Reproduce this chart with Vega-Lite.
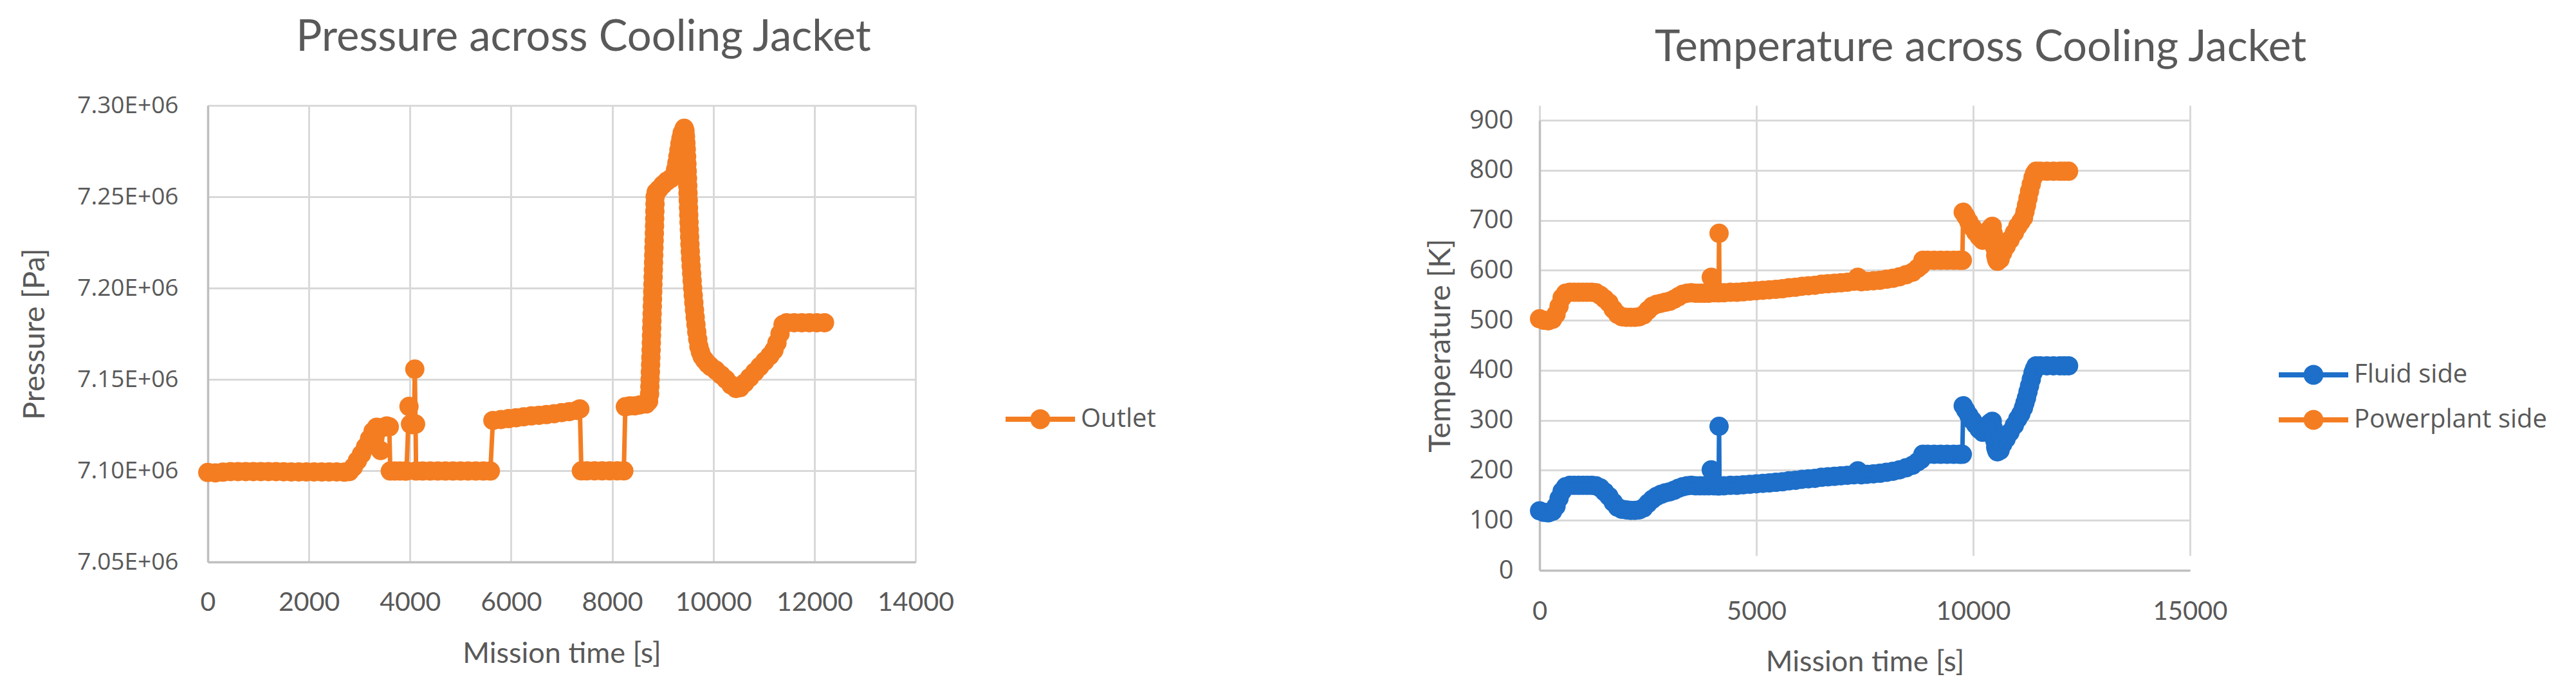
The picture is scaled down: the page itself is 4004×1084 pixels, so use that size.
{
  "$schema": "https://vega.github.io/schema/vega-lite/v6.json",
  "autosize": {"type": "none"},
  "padding": {"left": 323, "top": 164, "right": 3681, "bottom": 920},
  "background": "white",
  "spacing": 970,
  "bounds": "flush",
  "resolve": {"scale": {"color": "independent", "x": "independent", "y": "independent"}, "legend": {"color": "independent"}},
  "config": {
    "view": {"stroke": null},
    "axis": {
      "gridColor": "#D9D9D9", "gridWidth": 3, "domainColor": "#BFBFBF", "domainWidth": 3.5,
      "ticks": false, "labelColor": "#595959", "titleColor": "#595959", "titleFontWeight": "normal",
      "labelOverlap": false, "labelFlush": false
    },
    "legend": {
      "orient": "none", "padding": 0, "rowPadding": 5, "labelOffset": 18, "labelLimit": 1000,
      "labelFont": "Open Sans", "labelFontSize": 40, "labelColor": "#595959",
      "symbolType": "M-1.2,-0.089H1.2V0.089H-1.2ZM-0.344,0A0.344,0.344,0,1,1,0.344,0A0.344,0.344,0,1,1,-0.344,0Z",
      "symbolSize": 8100, "symbolStrokeWidth": 0, "symbolOpacity": 1
    }
  },
  "datasets": {
    "pressure": [
      {"time":0,"pressure":7099000,"series":"Outlet"},{"time":150,"pressure":7098800,"series":"Outlet"},{"time":300,"pressure":7099200,"series":"Outlet"},{"time":450,"pressure":7099500,"series":"Outlet"},{"time":600,"pressure":7099500,"series":"Outlet"},{"time":750,"pressure":7099500,"series":"Outlet"},{"time":900,"pressure":7099500,"series":"Outlet"},{"time":1050,"pressure":7099500,"series":"Outlet"},{"time":1200,"pressure":7099500,"series":"Outlet"},{"time":1350,"pressure":7099500,"series":"Outlet"},{"time":1500,"pressure":7099400,"series":"Outlet"},{"time":1650,"pressure":7099300,"series":"Outlet"},{"time":1800,"pressure":7099300,"series":"Outlet"},{"time":1950,"pressure":7099300,"series":"Outlet"},{"time":2100,"pressure":7099300,"series":"Outlet"},{"time":2250,"pressure":7099300,"series":"Outlet"},{"time":2400,"pressure":7099300,"series":"Outlet"},{"time":2550,"pressure":7099300,"series":"Outlet"},{"time":2700,"pressure":7099200,"series":"Outlet"},{"time":2800,"pressure":7099500,"series":"Outlet"},{"time":2880,"pressure":7102000,"series":"Outlet"},{"time":2960,"pressure":7105500,"series":"Outlet"},{"time":3040,"pressure":7109000,"series":"Outlet"},{"time":3120,"pressure":7113000,"series":"Outlet"},{"time":3200,"pressure":7117500,"series":"Outlet"},{"time":3270,"pressure":7121500,"series":"Outlet"},{"time":3340,"pressure":7123800,"series":"Outlet"},{"time":3420,"pressure":7111000,"series":"Outlet"},{"time":3480,"pressure":7123800,"series":"Outlet"},{"time":3540,"pressure":7124500,"series":"Outlet"},{"time":3590,"pressure":7124000,"series":"Outlet"},{"time":3610,"pressure":7099800,"series":"Outlet"},{"time":3700,"pressure":7099800,"series":"Outlet"},{"time":3800,"pressure":7099800,"series":"Outlet"},{"time":3900,"pressure":7099800,"series":"Outlet"},{"time":3930,"pressure":7099800,"series":"Outlet"},{"time":3980,"pressure":7135200,"series":"Outlet"},{"time":4010,"pressure":7125500,"series":"Outlet"},{"time":4050,"pressure":7125200,"series":"Outlet"},{"time":4080,"pressure":7125500,"series":"Outlet"},{"time":4095,"pressure":7155600,"series":"Outlet"},{"time":4110,"pressure":7125500,"series":"Outlet"},{"time":4120,"pressure":7099800,"series":"Outlet"},{"time":4250,"pressure":7099800,"series":"Outlet"},{"time":4400,"pressure":7099800,"series":"Outlet"},{"time":4550,"pressure":7099800,"series":"Outlet"},{"time":4700,"pressure":7099800,"series":"Outlet"},{"time":4850,"pressure":7099800,"series":"Outlet"},{"time":5000,"pressure":7099800,"series":"Outlet"},{"time":5150,"pressure":7099800,"series":"Outlet"},{"time":5300,"pressure":7099800,"series":"Outlet"},{"time":5450,"pressure":7099800,"series":"Outlet"},{"time":5590,"pressure":7099800,"series":"Outlet"},{"time":5640,"pressure":7127500,"series":"Outlet"},{"time":5800,"pressure":7128000,"series":"Outlet"},{"time":5950,"pressure":7128500,"series":"Outlet"},{"time":6100,"pressure":7129000,"series":"Outlet"},{"time":6250,"pressure":7129500,"series":"Outlet"},{"time":6400,"pressure":7130000,"series":"Outlet"},{"time":6550,"pressure":7130300,"series":"Outlet"},{"time":6700,"pressure":7130700,"series":"Outlet"},{"time":6850,"pressure":7131200,"series":"Outlet"},{"time":7000,"pressure":7131800,"series":"Outlet"},{"time":7150,"pressure":7132300,"series":"Outlet"},{"time":7300,"pressure":7133000,"series":"Outlet"},{"time":7360,"pressure":7133800,"series":"Outlet"},{"time":7390,"pressure":7099900,"series":"Outlet"},{"time":7500,"pressure":7099900,"series":"Outlet"},{"time":7650,"pressure":7099900,"series":"Outlet"},{"time":7800,"pressure":7099900,"series":"Outlet"},{"time":7950,"pressure":7099900,"series":"Outlet"},{"time":8100,"pressure":7099900,"series":"Outlet"},{"time":8230,"pressure":7099900,"series":"Outlet"},{"time":8260,"pressure":7135000,"series":"Outlet"},{"time":8350,"pressure":7135500,"series":"Outlet"},{"time":8450,"pressure":7135500,"series":"Outlet"},{"time":8550,"pressure":7136000,"series":"Outlet"},{"time":8670,"pressure":7136500,"series":"Outlet"},{"time":8720,"pressure":7138000,"series":"Outlet"},{"time":8740,"pressure":7142000,"series":"Outlet"},{"time":8745,"pressure":7146000,"series":"Outlet"},{"time":8750,"pressure":7150000,"series":"Outlet"},{"time":8755,"pressure":7154000,"series":"Outlet"},{"time":8760,"pressure":7158000,"series":"Outlet"},{"time":8765,"pressure":7162000,"series":"Outlet"},{"time":8770,"pressure":7166000,"series":"Outlet"},{"time":8774,"pressure":7170000,"series":"Outlet"},{"time":8778,"pressure":7174000,"series":"Outlet"},{"time":8782,"pressure":7178000,"series":"Outlet"},{"time":8786,"pressure":7182000,"series":"Outlet"},{"time":8790,"pressure":7186000,"series":"Outlet"},{"time":8794,"pressure":7190000,"series":"Outlet"},{"time":8798,"pressure":7194000,"series":"Outlet"},{"time":8802,"pressure":7198000,"series":"Outlet"},{"time":8806,"pressure":7202000,"series":"Outlet"},{"time":8810,"pressure":7206000,"series":"Outlet"},{"time":8814,"pressure":7210000,"series":"Outlet"},{"time":8818,"pressure":7214000,"series":"Outlet"},{"time":8822,"pressure":7218000,"series":"Outlet"},{"time":8826,"pressure":7222000,"series":"Outlet"},{"time":8830,"pressure":7226000,"series":"Outlet"},{"time":8834,"pressure":7230000,"series":"Outlet"},{"time":8838,"pressure":7234000,"series":"Outlet"},{"time":8841,"pressure":7238000,"series":"Outlet"},{"time":8844,"pressure":7242000,"series":"Outlet"},{"time":8847,"pressure":7246000,"series":"Outlet"},{"time":8850,"pressure":7250000,"series":"Outlet"},{"time":8870,"pressure":7252500,"series":"Outlet"},{"time":8920,"pressure":7254000,"series":"Outlet"},{"time":9000,"pressure":7256500,"series":"Outlet"},{"time":9080,"pressure":7258500,"series":"Outlet"},{"time":9160,"pressure":7260000,"series":"Outlet"},{"time":9230,"pressure":7262000,"series":"Outlet"},{"time":9255,"pressure":7265000,"series":"Outlet"},{"time":9280,"pressure":7268500,"series":"Outlet"},{"time":9300,"pressure":7272000,"series":"Outlet"},{"time":9320,"pressure":7275500,"series":"Outlet"},{"time":9340,"pressure":7279000,"series":"Outlet"},{"time":9360,"pressure":7282000,"series":"Outlet"},{"time":9385,"pressure":7285000,"series":"Outlet"},{"time":9425,"pressure":7287500,"series":"Outlet"},{"time":9440,"pressure":7286000,"series":"Outlet"},{"time":9450,"pressure":7283000,"series":"Outlet"},{"time":9458,"pressure":7279500,"series":"Outlet"},{"time":9465,"pressure":7276000,"series":"Outlet"},{"time":9472,"pressure":7272000,"series":"Outlet"},{"time":9478,"pressure":7268000,"series":"Outlet"},{"time":9484,"pressure":7264000,"series":"Outlet"},{"time":9490,"pressure":7260000,"series":"Outlet"},{"time":9495,"pressure":7256000,"series":"Outlet"},{"time":9500,"pressure":7252000,"series":"Outlet"},{"time":9505,"pressure":7248000,"series":"Outlet"},{"time":9510,"pressure":7244000,"series":"Outlet"},{"time":9515,"pressure":7240000,"series":"Outlet"},{"time":9520,"pressure":7236000,"series":"Outlet"},{"time":9526,"pressure":7232000,"series":"Outlet"},{"time":9532,"pressure":7228000,"series":"Outlet"},{"time":9538,"pressure":7224000,"series":"Outlet"},{"time":9545,"pressure":7220000,"series":"Outlet"},{"time":9553,"pressure":7216000,"series":"Outlet"},{"time":9562,"pressure":7212000,"series":"Outlet"},{"time":9572,"pressure":7208000,"series":"Outlet"},{"time":9582,"pressure":7204000,"series":"Outlet"},{"time":9592,"pressure":7200000,"series":"Outlet"},{"time":9603,"pressure":7196000,"series":"Outlet"},{"time":9615,"pressure":7192000,"series":"Outlet"},{"time":9628,"pressure":7188000,"series":"Outlet"},{"time":9642,"pressure":7184000,"series":"Outlet"},{"time":9657,"pressure":7180000,"series":"Outlet"},{"time":9673,"pressure":7176000,"series":"Outlet"},{"time":9692,"pressure":7172000,"series":"Outlet"},{"time":9715,"pressure":7168000,"series":"Outlet"},{"time":9745,"pressure":7165000,"series":"Outlet"},{"time":9780,"pressure":7162500,"series":"Outlet"},{"time":9830,"pressure":7160500,"series":"Outlet"},{"time":9890,"pressure":7158500,"series":"Outlet"},{"time":9950,"pressure":7157000,"series":"Outlet"},{"time":10050,"pressure":7155000,"series":"Outlet"},{"time":10150,"pressure":7152500,"series":"Outlet"},{"time":10250,"pressure":7150000,"series":"Outlet"},{"time":10350,"pressure":7147000,"series":"Outlet"},{"time":10450,"pressure":7145000,"series":"Outlet"},{"time":10530,"pressure":7145500,"series":"Outlet"},{"time":10620,"pressure":7148000,"series":"Outlet"},{"time":10720,"pressure":7151000,"series":"Outlet"},{"time":10820,"pressure":7154000,"series":"Outlet"},{"time":10920,"pressure":7157000,"series":"Outlet"},{"time":11020,"pressure":7160000,"series":"Outlet"},{"time":11120,"pressure":7163000,"series":"Outlet"},{"time":11200,"pressure":7166000,"series":"Outlet"},{"time":11260,"pressure":7170000,"series":"Outlet"},{"time":11320,"pressure":7175000,"series":"Outlet"},{"time":11380,"pressure":7180000,"series":"Outlet"},{"time":11450,"pressure":7181000,"series":"Outlet"},{"time":11600,"pressure":7181000,"series":"Outlet"},{"time":11750,"pressure":7181000,"series":"Outlet"},{"time":11900,"pressure":7181000,"series":"Outlet"},{"time":12050,"pressure":7181000,"series":"Outlet"},{"time":12200,"pressure":7181000,"series":"Outlet"}
    ],
    "temperature": [
      {"time":0,"temperature":503,"series":"Powerplant side"},{"time":100,"temperature":500,"series":"Powerplant side"},{"time":200,"temperature":499,"series":"Powerplant side"},{"time":300,"temperature":502,"series":"Powerplant side"},{"time":380,"temperature":512,"series":"Powerplant side"},{"time":450,"temperature":528,"series":"Powerplant side"},{"time":520,"temperature":545,"series":"Powerplant side"},{"time":600,"temperature":554,"series":"Powerplant side"},{"time":700,"temperature":556,"series":"Powerplant side"},{"time":800,"temperature":556,"series":"Powerplant side"},{"time":900,"temperature":556,"series":"Powerplant side"},{"time":1000,"temperature":556,"series":"Powerplant side"},{"time":1100,"temperature":556,"series":"Powerplant side"},{"time":1200,"temperature":556,"series":"Powerplant side"},{"time":1300,"temperature":555,"series":"Powerplant side"},{"time":1400,"temperature":550,"series":"Powerplant side"},{"time":1500,"temperature":543,"series":"Powerplant side"},{"time":1600,"temperature":535,"series":"Powerplant side"},{"time":1700,"temperature":522,"series":"Powerplant side"},{"time":1800,"temperature":512,"series":"Powerplant side"},{"time":1900,"temperature":507,"series":"Powerplant side"},{"time":2000,"temperature":506,"series":"Powerplant side"},{"time":2100,"temperature":506,"series":"Powerplant side"},{"time":2200,"temperature":506,"series":"Powerplant side"},{"time":2300,"temperature":507,"series":"Powerplant side"},{"time":2400,"temperature":511,"series":"Powerplant side"},{"time":2500,"temperature":520,"series":"Powerplant side"},{"time":2600,"temperature":528,"series":"Powerplant side"},{"time":2700,"temperature":532,"series":"Powerplant side"},{"time":2800,"temperature":534,"series":"Powerplant side"},{"time":2900,"temperature":536,"series":"Powerplant side"},{"time":3000,"temperature":538,"series":"Powerplant side"},{"time":3100,"temperature":542,"series":"Powerplant side"},{"time":3200,"temperature":547,"series":"Powerplant side"},{"time":3300,"temperature":552,"series":"Powerplant side"},{"time":3400,"temperature":554,"series":"Powerplant side"},{"time":3500,"temperature":555,"series":"Powerplant side"},{"time":3600,"temperature":554,"series":"Powerplant side"},{"time":3700,"temperature":554,"series":"Powerplant side"},{"time":3800,"temperature":554,"series":"Powerplant side"},{"time":3900,"temperature":554,"series":"Powerplant side"},{"time":3960,"temperature":586,"series":"Powerplant side"},{"time":4020,"temperature":555,"series":"Powerplant side"},{"time":4100,"temperature":555,"series":"Powerplant side"},{"time":4130,"temperature":555,"series":"Powerplant side"},{"time":4140,"temperature":674,"series":"Powerplant side"},{"time":4150,"temperature":555,"series":"Powerplant side"},{"time":4250,"temperature":555,"series":"Powerplant side"},{"time":4400,"temperature":556,"series":"Powerplant side"},{"time":4550,"temperature":556,"series":"Powerplant side"},{"time":4700,"temperature":557,"series":"Powerplant side"},{"time":4850,"temperature":558,"series":"Powerplant side"},{"time":5000,"temperature":559,"series":"Powerplant side"},{"time":5150,"temperature":560,"series":"Powerplant side"},{"time":5300,"temperature":561,"series":"Powerplant side"},{"time":5450,"temperature":562,"series":"Powerplant side"},{"time":5600,"temperature":563,"series":"Powerplant side"},{"time":5750,"temperature":565,"series":"Powerplant side"},{"time":5900,"temperature":566,"series":"Powerplant side"},{"time":6050,"temperature":568,"series":"Powerplant side"},{"time":6200,"temperature":569,"series":"Powerplant side"},{"time":6350,"temperature":570,"series":"Powerplant side"},{"time":6500,"temperature":572,"series":"Powerplant side"},{"time":6650,"temperature":573,"series":"Powerplant side"},{"time":6800,"temperature":574,"series":"Powerplant side"},{"time":6950,"temperature":575,"series":"Powerplant side"},{"time":7100,"temperature":576,"series":"Powerplant side"},{"time":7250,"temperature":578,"series":"Powerplant side"},{"time":7340,"temperature":586,"series":"Powerplant side"},{"time":7420,"temperature":577,"series":"Powerplant side"},{"time":7550,"temperature":578,"series":"Powerplant side"},{"time":7700,"temperature":579,"series":"Powerplant side"},{"time":7850,"temperature":580,"series":"Powerplant side"},{"time":8000,"temperature":582,"series":"Powerplant side"},{"time":8150,"temperature":584,"series":"Powerplant side"},{"time":8300,"temperature":587,"series":"Powerplant side"},{"time":8450,"temperature":591,"series":"Powerplant side"},{"time":8600,"temperature":596,"series":"Powerplant side"},{"time":8720,"temperature":604,"series":"Powerplant side"},{"time":8800,"temperature":610,"series":"Powerplant side"},{"time":8840,"temperature":620,"series":"Powerplant side"},{"time":8950,"temperature":620,"series":"Powerplant side"},{"time":9100,"temperature":620,"series":"Powerplant side"},{"time":9250,"temperature":620,"series":"Powerplant side"},{"time":9400,"temperature":620,"series":"Powerplant side"},{"time":9550,"temperature":620,"series":"Powerplant side"},{"time":9680,"temperature":620,"series":"Powerplant side"},{"time":9750,"temperature":620,"series":"Powerplant side"},{"time":9770,"temperature":716,"series":"Powerplant side"},{"time":9830,"temperature":708,"series":"Powerplant side"},{"time":9900,"temperature":697,"series":"Powerplant side"},{"time":9980,"temperature":686,"series":"Powerplant side"},{"time":10060,"temperature":676,"series":"Powerplant side"},{"time":10140,"temperature":667,"series":"Powerplant side"},{"time":10220,"temperature":660,"series":"Powerplant side"},{"time":10300,"temperature":668,"series":"Powerplant side"},{"time":10380,"temperature":682,"series":"Powerplant side"},{"time":10440,"temperature":688,"series":"Powerplant side"},{"time":10460,"temperature":674,"series":"Powerplant side"},{"time":10480,"temperature":660,"series":"Powerplant side"},{"time":10500,"temperature":645,"series":"Powerplant side"},{"time":10520,"temperature":630,"series":"Powerplant side"},{"time":10540,"temperature":622,"series":"Powerplant side"},{"time":10560,"temperature":618,"series":"Powerplant side"},{"time":10620,"temperature":622,"series":"Powerplant side"},{"time":10680,"temperature":635,"series":"Powerplant side"},{"time":10760,"temperature":648,"series":"Powerplant side"},{"time":10850,"temperature":661,"series":"Powerplant side"},{"time":10950,"temperature":675,"series":"Powerplant side"},{"time":11030,"temperature":688,"series":"Powerplant side"},{"time":11100,"temperature":697,"series":"Powerplant side"},{"time":11160,"temperature":705,"series":"Powerplant side"},{"time":11195,"temperature":717,"series":"Powerplant side"},{"time":11230,"temperature":730,"series":"Powerplant side"},{"time":11265,"temperature":744,"series":"Powerplant side"},{"time":11300,"temperature":758,"series":"Powerplant side"},{"time":11340,"temperature":772,"series":"Powerplant side"},{"time":11380,"temperature":785,"series":"Powerplant side"},{"time":11415,"temperature":793,"series":"Powerplant side"},{"time":11450,"temperature":798,"series":"Powerplant side"},{"time":11550,"temperature":798,"series":"Powerplant side"},{"time":11700,"temperature":798,"series":"Powerplant side"},{"time":11850,"temperature":798,"series":"Powerplant side"},{"time":12000,"temperature":798,"series":"Powerplant side"},{"time":12100,"temperature":798,"series":"Powerplant side"},{"time":12200,"temperature":798,"series":"Powerplant side"},
      {"time":0,"temperature":119,"series":"Fluid side"},{"time":100,"temperature":116,"series":"Fluid side"},{"time":200,"temperature":115,"series":"Fluid side"},{"time":300,"temperature":118,"series":"Fluid side"},{"time":380,"temperature":128,"series":"Fluid side"},{"time":450,"temperature":144,"series":"Fluid side"},{"time":520,"temperature":158,"series":"Fluid side"},{"time":600,"temperature":167,"series":"Fluid side"},{"time":700,"temperature":170,"series":"Fluid side"},{"time":800,"temperature":170,"series":"Fluid side"},{"time":900,"temperature":170,"series":"Fluid side"},{"time":1000,"temperature":170,"series":"Fluid side"},{"time":1100,"temperature":170,"series":"Fluid side"},{"time":1200,"temperature":170,"series":"Fluid side"},{"time":1300,"temperature":169,"series":"Fluid side"},{"time":1400,"temperature":165,"series":"Fluid side"},{"time":1500,"temperature":157,"series":"Fluid side"},{"time":1600,"temperature":148,"series":"Fluid side"},{"time":1700,"temperature":136,"series":"Fluid side"},{"time":1800,"temperature":126,"series":"Fluid side"},{"time":1900,"temperature":122,"series":"Fluid side"},{"time":2000,"temperature":121,"series":"Fluid side"},{"time":2100,"temperature":120,"series":"Fluid side"},{"time":2200,"temperature":120,"series":"Fluid side"},{"time":2300,"temperature":121,"series":"Fluid side"},{"time":2400,"temperature":125,"series":"Fluid side"},{"time":2500,"temperature":134,"series":"Fluid side"},{"time":2600,"temperature":142,"series":"Fluid side"},{"time":2700,"temperature":148,"series":"Fluid side"},{"time":2800,"temperature":152,"series":"Fluid side"},{"time":2900,"temperature":155,"series":"Fluid side"},{"time":3000,"temperature":157,"series":"Fluid side"},{"time":3100,"temperature":160,"series":"Fluid side"},{"time":3200,"temperature":164,"series":"Fluid side"},{"time":3300,"temperature":167,"series":"Fluid side"},{"time":3400,"temperature":169,"series":"Fluid side"},{"time":3500,"temperature":170,"series":"Fluid side"},{"time":3600,"temperature":169,"series":"Fluid side"},{"time":3700,"temperature":169,"series":"Fluid side"},{"time":3800,"temperature":169,"series":"Fluid side"},{"time":3900,"temperature":169,"series":"Fluid side"},{"time":3960,"temperature":201,"series":"Fluid side"},{"time":4020,"temperature":169,"series":"Fluid side"},{"time":4100,"temperature":169,"series":"Fluid side"},{"time":4130,"temperature":169,"series":"Fluid side"},{"time":4140,"temperature":288,"series":"Fluid side"},{"time":4150,"temperature":169,"series":"Fluid side"},{"time":4250,"temperature":169,"series":"Fluid side"},{"time":4400,"temperature":170,"series":"Fluid side"},{"time":4550,"temperature":170,"series":"Fluid side"},{"time":4700,"temperature":171,"series":"Fluid side"},{"time":4850,"temperature":172,"series":"Fluid side"},{"time":5000,"temperature":173,"series":"Fluid side"},{"time":5150,"temperature":174,"series":"Fluid side"},{"time":5300,"temperature":175,"series":"Fluid side"},{"time":5450,"temperature":176,"series":"Fluid side"},{"time":5600,"temperature":177,"series":"Fluid side"},{"time":5750,"temperature":179,"series":"Fluid side"},{"time":5900,"temperature":180,"series":"Fluid side"},{"time":6050,"temperature":182,"series":"Fluid side"},{"time":6200,"temperature":183,"series":"Fluid side"},{"time":6350,"temperature":184,"series":"Fluid side"},{"time":6500,"temperature":186,"series":"Fluid side"},{"time":6650,"temperature":187,"series":"Fluid side"},{"time":6800,"temperature":188,"series":"Fluid side"},{"time":6950,"temperature":189,"series":"Fluid side"},{"time":7100,"temperature":190,"series":"Fluid side"},{"time":7250,"temperature":191,"series":"Fluid side"},{"time":7340,"temperature":199,"series":"Fluid side"},{"time":7420,"temperature":191,"series":"Fluid side"},{"time":7550,"temperature":192,"series":"Fluid side"},{"time":7700,"temperature":193,"series":"Fluid side"},{"time":7850,"temperature":194,"series":"Fluid side"},{"time":8000,"temperature":196,"series":"Fluid side"},{"time":8150,"temperature":198,"series":"Fluid side"},{"time":8300,"temperature":201,"series":"Fluid side"},{"time":8450,"temperature":205,"series":"Fluid side"},{"time":8600,"temperature":210,"series":"Fluid side"},{"time":8720,"temperature":217,"series":"Fluid side"},{"time":8800,"temperature":222,"series":"Fluid side"},{"time":8840,"temperature":232,"series":"Fluid side"},{"time":8950,"temperature":232,"series":"Fluid side"},{"time":9100,"temperature":232,"series":"Fluid side"},{"time":9250,"temperature":232,"series":"Fluid side"},{"time":9400,"temperature":232,"series":"Fluid side"},{"time":9550,"temperature":232,"series":"Fluid side"},{"time":9680,"temperature":232,"series":"Fluid side"},{"time":9750,"temperature":232,"series":"Fluid side"},{"time":9770,"temperature":329,"series":"Fluid side"},{"time":9830,"temperature":320,"series":"Fluid side"},{"time":9900,"temperature":310,"series":"Fluid side"},{"time":9980,"temperature":300,"series":"Fluid side"},{"time":10060,"temperature":291,"series":"Fluid side"},{"time":10140,"temperature":282,"series":"Fluid side"},{"time":10220,"temperature":276,"series":"Fluid side"},{"time":10300,"temperature":282,"series":"Fluid side"},{"time":10380,"temperature":294,"series":"Fluid side"},{"time":10440,"temperature":298,"series":"Fluid side"},{"time":10460,"temperature":285,"series":"Fluid side"},{"time":10480,"temperature":272,"series":"Fluid side"},{"time":10500,"temperature":259,"series":"Fluid side"},{"time":10520,"temperature":246,"series":"Fluid side"},{"time":10540,"temperature":240,"series":"Fluid side"},{"time":10560,"temperature":237,"series":"Fluid side"},{"time":10620,"temperature":240,"series":"Fluid side"},{"time":10680,"temperature":252,"series":"Fluid side"},{"time":10760,"temperature":263,"series":"Fluid side"},{"time":10850,"temperature":276,"series":"Fluid side"},{"time":10950,"temperature":290,"series":"Fluid side"},{"time":11030,"temperature":303,"series":"Fluid side"},{"time":11100,"temperature":313,"series":"Fluid side"},{"time":11160,"temperature":325,"series":"Fluid side"},{"time":11195,"temperature":335,"series":"Fluid side"},{"time":11230,"temperature":345,"series":"Fluid side"},{"time":11265,"temperature":357,"series":"Fluid side"},{"time":11300,"temperature":369,"series":"Fluid side"},{"time":11340,"temperature":382,"series":"Fluid side"},{"time":11380,"temperature":395,"series":"Fluid side"},{"time":11415,"temperature":403,"series":"Fluid side"},{"time":11450,"temperature":409,"series":"Fluid side"},{"time":11550,"temperature":409,"series":"Fluid side"},{"time":11700,"temperature":409,"series":"Fluid side"},{"time":11850,"temperature":409,"series":"Fluid side"},{"time":12000,"temperature":409,"series":"Fluid side"},{"time":12100,"temperature":409,"series":"Fluid side"},{"time":12200,"temperature":409,"series":"Fluid side"}
    ]
  },
  "hconcat": [
    {
      "width": 1100,
      "height": 710,
      "data": {"name": "pressure"},
      "title": {"text": "Pressure across Cooling Jacket", "font": "Lato", "fontSize": 67, "fontWeight": "normal", "color": "#595959", "anchor": "middle", "frame": "group", "dx": 34, "offset": -1, "baseline": "alphabetic"},
      "encoding": {
        "x": {"field": "time", "type": "quantitative",
          "scale": {"domain": [0, 14000], "nice": false, "zero": false},
          "axis": {"values": [0, 2000, 4000, 6000, 8000, 10000, 12000, 14000], "format": "d", "title": "Mission time [s]", "labelFont": "Lato", "labelFontSize": 41, "labelPadding": 43, "titleFont": "Lato", "titleFontSize": 45, "titleY": 156, "titleBaseline": "alphabetic"}},
        "y": {"field": "pressure", "type": "quantitative",
          "scale": {"domain": [7050000, 7300000], "nice": false, "zero": false},
          "axis": {"values": [7050000, 7100000, 7150000, 7200000, 7250000, 7300000], "labelExpr": "format(datum.value / 1000000, '.2f') + 'E+06'", "title": "Pressure [Pa]", "labelFont": "Open Sans", "labelFontSize": 37, "labelPadding": 46, "titleFont": "Lato", "titleFontSize": 47, "titleX": -255, "titleY": 355, "titleAngle": 270, "titleBaseline": "alphabetic"}},
        "color": {"field": "series", "type": "nominal",
          "scale": {"domain": ["Outlet"], "range": ["#F47D22"]},
          "legend": {"title": null, "legendX": 1249, "legendY": 443}}
      },
      "layer": [
        {"mark": {"type": "point", "shape": "circle", "filled": true, "opacity": 1, "size": 900}},
        {"mark": {"type": "line", "strokeWidth": 7}}
      ]
    },
    {
      "width": 1011,
      "height": 723,
      "data": {"name": "temperature"},
      "title": {"text": "Temperature across Cooling Jacket", "font": "Lato", "fontSize": 67, "fontWeight": "normal", "color": "#595959", "anchor": "middle", "frame": "group", "dx": 180, "offset": 2, "baseline": "alphabetic"},
      "encoding": {
        "x": {"field": "time", "type": "quantitative",
          "scale": {"domain": [0, 15000], "nice": false, "zero": false},
          "axis": {"values": [0, 5000, 10000, 15000], "format": "d", "title": "Mission time [s]", "labelFont": "Lato", "labelFontSize": 40, "labelPadding": 44, "titleFont": "Lato", "titleFontSize": 45, "titleY": 156, "titleBaseline": "alphabetic"}},
        "y": {"field": "temperature", "type": "quantitative",
          "scale": {"domain": [0, 900], "range": [723, 23], "nice": false, "zero": false},
          "axis": {"values": [0, 100, 200, 300, 400, 500, 600, 700, 800, 900], "title": "Temperature [K]", "labelFont": "Open Sans", "labelFontSize": 40, "labelPadding": 41, "titleFont": "Lato", "titleFontSize": 47, "titleX": -140, "titleY": 373, "titleAngle": 270, "titleBaseline": "alphabetic"}},
        "color": {"field": "series", "type": "nominal",
          "scale": {"domain": ["Fluid side", "Powerplant side"], "range": ["#1D6FC9", "#F47D22"]},
          "legend": {"title": null, "legendX": 1158, "legendY": 374}}
      },
      "layer": [
        {"mark": {"type": "point", "shape": "circle", "filled": true, "opacity": 1, "size": 900}},
        {"mark": {"type": "line", "strokeWidth": 7}}
      ]
    }
  ]
}
